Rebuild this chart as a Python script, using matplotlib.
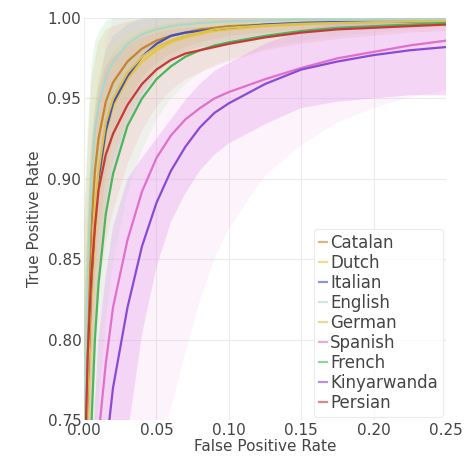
import numpy as np
import matplotlib
matplotlib.use('Agg')
import matplotlib.pyplot as plt

# ── ROC 평균 곡선 + 표준편차 밴드 ────────────────────────────────────────────
fpr = [0, 0.0025, 0.005, 0.0075, 0.01, 0.015, 0.02, 0.03, 0.04, 0.05, 0.06,
       0.07, 0.08, 0.09, 0.10, 0.125, 0.15, 0.175, 0.20, 0.225, 0.25]

languages = ['Catalan', 'Dutch', 'Italian', 'English', 'German',
             'Spanish', 'French', 'Kinyarwanda', 'Persian']

tpr_catalan = [0.72, 0.80, 0.87, 0.905, 0.925, 0.948, 0.960, 0.973, 0.981, 0.986, 0.989,
               0.991, 0.993, 0.994, 0.995, 0.996, 0.997, 0.9975, 0.998, 0.998, 0.9985]
tpr_dutch = [0.69, 0.75, 0.82, 0.865, 0.895, 0.928, 0.945, 0.962, 0.973, 0.980, 0.985,
             0.988, 0.990, 0.992, 0.993, 0.995, 0.996, 0.997, 0.9975, 0.998, 0.998]
tpr_italian = [0.70, 0.77, 0.835, 0.875, 0.90, 0.93, 0.947, 0.964, 0.976, 0.984, 0.989,
               0.991, 0.992, 0.993, 0.994, 0.996, 0.997, 0.9975, 0.998, 0.998, 0.998]
tpr_english = [0.75, 0.84, 0.90, 0.93, 0.946, 0.963, 0.973, 0.984, 0.990, 0.993, 0.995,
               0.996, 0.997, 0.9975, 0.998, 0.9985, 0.999, 0.999, 0.999, 0.999, 0.999]
tpr_german = [0.70, 0.77, 0.84, 0.88, 0.905, 0.935, 0.950, 0.966, 0.976, 0.982, 0.986,
              0.989, 0.991, 0.993, 0.994, 0.9955, 0.9965, 0.997, 0.9975, 0.998, 0.998]
tpr_spanish = [0.55, 0.62, 0.67, 0.71, 0.74, 0.785, 0.82, 0.862, 0.892, 0.913, 0.927,
               0.937, 0.944, 0.950, 0.954, 0.962, 0.969, 0.975, 0.979, 0.983, 0.986]
tpr_french = [0.68, 0.72, 0.745, 0.80, 0.835, 0.878, 0.903, 0.933, 0.950, 0.962, 0.970,
              0.976, 0.980, 0.983, 0.985, 0.989, 0.992, 0.994, 0.995, 0.996, 0.997]
tpr_kinyarwanda = [0.45, 0.55, 0.60, 0.64, 0.68, 0.73, 0.77, 0.82, 0.858, 0.885, 0.905,
                   0.920, 0.932, 0.941, 0.947, 0.959, 0.968, 0.973, 0.977, 0.980, 0.982]
tpr_persian = [0.70, 0.79, 0.84, 0.87, 0.893, 0.915, 0.928, 0.946, 0.959, 0.968, 0.974,
               0.978, 0.980, 0.982, 0.984, 0.988, 0.991, 0.993, 0.994, 0.995, 0.996]

std_catalan = [0.15, 0.12, 0.09, 0.07, 0.06, 0.045, 0.035, 0.025, 0.018, 0.014, 0.011,
               0.009, 0.008, 0.007, 0.006, 0.005, 0.004, 0.003, 0.003, 0.002, 0.002]
std_dutch = [0.12, 0.10, 0.08, 0.065, 0.055, 0.042, 0.034, 0.025, 0.019, 0.015, 0.012,
             0.010, 0.009, 0.008, 0.007, 0.005, 0.004, 0.003, 0.003, 0.002, 0.002]
std_italian = [0.12, 0.10, 0.085, 0.07, 0.06, 0.05, 0.042, 0.032, 0.024, 0.018, 0.014,
               0.012, 0.010, 0.009, 0.008, 0.006, 0.005, 0.004, 0.003, 0.003, 0.002]
std_english = [0.12, 0.09, 0.07, 0.055, 0.045, 0.035, 0.028, 0.018, 0.012, 0.009, 0.007,
               0.006, 0.005, 0.004, 0.003, 0.002, 0.002, 0.001, 0.001, 0.001, 0.001]
std_german = [0.15, 0.12, 0.09, 0.07, 0.06, 0.045, 0.035, 0.025, 0.018, 0.014, 0.011,
              0.009, 0.008, 0.007, 0.006, 0.005, 0.004, 0.003, 0.003, 0.002, 0.002]
std_spanish = [0.20, 0.20, 0.20, 0.20, 0.20, 0.20, 0.20, 0.19, 0.185, 0.18, 0.17,
               0.145, 0.12, 0.10, 0.085, 0.06, 0.048, 0.04, 0.035, 0.032, 0.031]
std_french = [0.10, 0.10, 0.09, 0.08, 0.075, 0.065, 0.055, 0.042, 0.032, 0.025, 0.02,
              0.017, 0.014, 0.012, 0.011, 0.008, 0.006, 0.005, 0.004, 0.003, 0.003]
std_kinyarwanda = [0.12, 0.12, 0.12, 0.12, 0.12, 0.11, 0.10, 0.08, 0.055, 0.04, 0.032,
                   0.029, 0.027, 0.026, 0.025, 0.025, 0.024, 0.025, 0.027, 0.028, 0.03]
std_persian = [0.10, 0.09, 0.08, 0.07, 0.065, 0.055, 0.048, 0.037, 0.029, 0.023, 0.019,
               0.016, 0.014, 0.012, 0.011, 0.008, 0.007, 0.006, 0.005, 0.004, 0.004]

line_colors = ['#c8842c', '#e8c63c', '#3f4fc4', '#a8d8cc', '#dcc24a',
               '#e070c8', '#48b85a', '#8a4ad8', '#c83838']
band_colors = ['#f0a860', '#f0d860', '#90a0e0', '#90e0a0', '#f0e080',
               '#f0a8e0', '#a0e0a0', '#e090f0', '#f09090']
band_alpha = [0.2, 0.18, 0.18, 0.2, 0.18, 0.13, 0.15, 0.3, 0.15]

tprs = [tpr_catalan, tpr_dutch, tpr_italian, tpr_english, tpr_german,
        tpr_spanish, tpr_french, tpr_kinyarwanda, tpr_persian]
stds = [std_catalan, std_dutch, std_italian, std_english, std_german,
        std_spanish, std_french, std_kinyarwanda, std_persian]

# ── 시각화 ─────────────────────────────────────────────────────────────────────
fig = plt.figure(figsize=(4.67, 4.65), dpi=100)
ax = fig.add_axes([0.18, 0.097, 0.775, 0.864])

x = np.array(fpr)
for tpr, std, bc, a in zip(tprs, stds, band_colors, band_alpha):
    m = np.array(tpr)
    s = np.array(std)
    ax.fill_between(x, m - s, np.minimum(m + s, 1.0), color=bc, alpha=a, lw=0)

for name, tpr, lc in zip(languages, tprs, line_colors):
    ax.plot(x, tpr, color=lc, lw=1.6, label=name)

ax.set_xlim(0, 0.25)
ax.set_ylim(0.75, 1.0)
ax.set_xticks([0, 0.05, 0.10, 0.15, 0.20, 0.25])
ax.set_yticks([0.75, 0.80, 0.85, 0.90, 0.95, 1.00])
ax.xaxis.set_major_formatter(plt.FormatStrFormatter('%.2f'))
ax.yaxis.set_major_formatter(plt.FormatStrFormatter('%.2f'))
ax.grid(True, color='#ebebeb', lw=0.8)
ax.set_axisbelow(True)
for sp in ax.spines.values():
    sp.set_visible(False)
ax.tick_params(length=0, labelsize=11, labelcolor='#444444', pad=2)
ax.set_xlabel('False Positive Rate', fontsize=11, color='#444444', labelpad=1)
ax.set_ylabel('True Positive Rate', fontsize=11, color='#444444', labelpad=4)

leg = ax.legend(loc='lower right', fontsize=12, handlelength=0.5, handletextpad=0.15,
                labelspacing=0.12, borderpad=0.3, frameon=True, borderaxespad=0.2)
leg.get_frame().set_edgecolor('#e6e6e6')
leg.get_frame().set_linewidth(0.8)
for t in leg.get_texts():
    t.set_color('#444444')
for h in leg.get_lines():
    h.set_alpha(0.6)

plt.savefig('out.png', dpi=100)
plt.close()
